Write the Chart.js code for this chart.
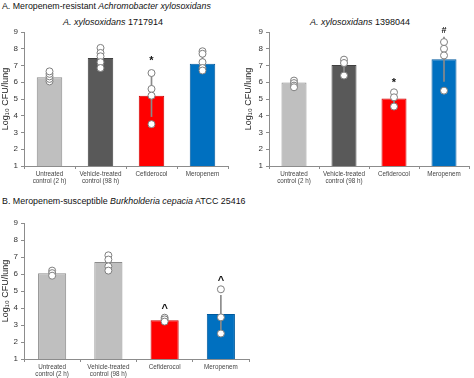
<!DOCTYPE html>
<html><head><meta charset="utf-8">
<script src="https://cdn.jsdelivr.net/npm/chart.js@4"></script>
<style>
html,body{margin:0;padding:0;background:#fff;width:474px;height:378px;overflow:hidden;font-family:"Liberation Sans",Arial,sans-serif;}
.t{position:absolute;white-space:nowrap;color:#111;}
canvas{position:absolute;}
</style></head><body>
<div class="t" style="left:2px;top:1px;font-size:8.8px;">A. Meropenem-resistant <i>Achromobacter xylosoxidans</i></div>
<div class="t" style="left:63px;top:17px;font-size:9px;"><i>A. xylosoxidans</i> 1717914</div>
<div class="t" style="left:310px;top:17px;font-size:9px;"><i>A. xylosoxidans</i> 1398044</div>
<div class="t" style="left:2px;top:196px;font-size:8.9px;">B. Meropenem-susceptible <i>Burkholderia cepacia</i> ATCC 25416</div>
<div style="position:absolute;left:0;top:24px;width:237px;height:166px;"><canvas id="c1"></canvas></div>
<div style="position:absolute;left:237px;top:24px;width:237px;height:166px;"><canvas id="c2"></canvas></div>
<div style="position:absolute;left:0;top:215px;width:260px;height:163px;"><canvas id="c3"></canvas></div>
<script>
const categories = ["Untreated control (2 h)", "Vehicle-treated control (98 h)", "Cefiderocol", "Meropenem"];
const tickLabels = [["Untreated","control (2 h)"],["Vehicle-treated","control (98 h)"],["Cefiderocol"],["Meropenem"]];
const yTicks = [1,2,3,4,5,6,7,8,9];
const yTitle = "Log\u2081\u2080 CFU/lung";

// Panel A left: A. xylosoxidans 1717914
const a1Means = [6.3, 7.45, 5.2, 7.1];
const a1Untreated = [6.05, 6.2, 6.35, 6.5, 6.65];
const a1Vehicle = [8.05, 7.75, 7.55, 7.2, 6.85];
const a1Cefiderocol = [6.55, 5.6, 5.2, 3.5];
const a1Meropenem = [7.85, 7.7, 7.2, 6.85, 6.7];
const a1ErrLow = [6.1, 6.95, 3.95, 6.6];
const a1ErrHigh = [6.5, 7.95, 6.45, 7.6];
const a1Marks = ["", "", "*", ""];
const a1MarkY = [null, null, 7.4, null];

// Panel A right: A. xylosoxidans 1398044
const a2Means = [5.98, 7.03, 5.03, 7.37];
const a2Untreated = [6.1, 5.95, 5.8, 5.7];
const a2Vehicle = [7.35, 7.15, 6.4];
const a2Cefiderocol = [5.4, 5.1, 4.55];
const a2Meropenem = [8.4, 8.0, 7.6, 5.5];
const a2ErrLow = [5.82, 6.55, 4.6, 6.05];
const a2ErrHigh = [6.14, 7.5, 5.45, 8.7];
const a2Marks = ["", "", "*", "#"];
const a2MarkY = [null, null, 6.1, 9.1];

// Panel B: B. cepacia ATCC 25416
const bMeans = [6.05, 6.7, 3.28, 3.65];
const bUntreated = [6.2, 6.05, 5.9];
const bVehicle = [7.1, 6.85, 6.45, 6.2];
const bCefiderocol = [3.43, 3.33, 3.2];
const bMeropenem = [5.1, 3.45, 2.5];
const bErrLow = [5.9, 6.3, 3.18, 2.55];
const bErrHigh = [6.2, 7.1, 3.38, 4.75];
const bMarks = ["", "", "^", "^"];
const bMarkY = [null, null, 4.05, 5.7];

const FONT = "'Liberation Sans', Arial, sans-serif";

const markPlugin = {
  id: 'marks',
  afterDatasetsDraw(chart, args, opts) {
    const {ctx, scales:{x, y}} = chart;
    ctx.save();
    ctx.fillStyle = '#111';
    ctx.textAlign = 'center';
    ctx.textBaseline = 'middle';
    opts.marks.forEach((m, i) => {
      if (!m) return;
      ctx.font = (m === '#' ? 'bold 9px ' : 'bold 11px ') + FONT;
      ctx.fillText(m, x.getPixelForValue(i), y.getPixelForValue(opts.markY[i]) + (m === '*' ? 2 : (m === '^' ? 2 : 0)));
    });
    ctx.restore();
  }
};

function makeChart(id, means, colors, borders, points, errLow, errHigh, marks, markY, yWidth, xHeight, pad) {
  const cv = document.getElementById(id);
  const pts = [];
  points.forEach((arr, i) => arr.forEach(v => pts.push({x: categories[i], y: v})));
  return new Chart(cv, {
    type: 'bar',
    data: {
      labels: categories,
      datasets: [
        {type:'line', data: pts, showLine:false, pointRadius:3.5, pointBackgroundColor:'#ffffff',
         pointBorderColor:'#7f7f7f', pointBorderWidth:1, order:1},
        {type:'bar', data: errLow.map((v,i)=>[v, errHigh[i]]), backgroundColor:'#8a8a8a', barThickness:1,
         grouped:false, order:2},
        {type:'bar', data: means, backgroundColor: colors, borderColor: borders, borderWidth:1,
         categoryPercentage:1, barPercentage:0.5, grouped:false, order:3}
      ]
    },
    options: {
      responsive: true, maintainAspectRatio: false, animation: false,
      devicePixelRatio: 1,
      layout: {padding: pad},
      plugins: {legend:{display:false}, tooltip:{enabled:false}, marks:{marks, markY}},
      scales: {
        x: {
          offset: true,
          grid: {display:true, drawOnChartArea:false, offset:true, tickLength:3, color:'#8c8c8c'},
          border: {color:'#8c8c8c'},
          ticks: {font:{family:FONT, size:6.3}, color:'#444', maxRotation:0, autoSkip:false, padding:1,
                  callback:(v, i) => tickLabels[i]},
          afterFit(s){ s.height = xHeight; }
        },
        y: {
          min: yTicks[0], max: yTicks[yTicks.length-1],
          grid: {display:true, drawOnChartArea:false, tickLength:3, color:'#8c8c8c'},
          border: {color:'#8c8c8c'},
          ticks: {stepSize:1, font:{family:FONT, size:8}, color:'#333', padding:3},
          title: {display:true, text:yTitle, font:{family:FONT, size:9}, color:'#222', padding:{top:0,bottom:0}},
          afterFit(s){ s.width = yWidth; }
        }
      }
    },
    plugins: [markPlugin]
  });
}

makeChart('c1', a1Means, ['#bfbfbf','#595959','#ff0000','#0070c0'], ['#8c8c8c','#404040','#d00000','#005a9e'],
  [a1Untreated, a1Vehicle, a1Cefiderocol, a1Meropenem], a1ErrLow, a1ErrHigh, a1Marks, a1MarkY, 24, 24,
  {top:8, right:9, left:0, bottom:0});
makeChart('c2', a2Means, ['#bfbfbf','#595959','#ff0000','#0070c0'], ['#8c8c8c','#404040','#d00000','#005a9e'],
  [a2Untreated, a2Vehicle, a2Cefiderocol, a2Meropenem], a2ErrLow, a2ErrHigh, a2Marks, a2MarkY, 26, 24,
  {top:8, right:2, left:6, bottom:0});
makeChart('c3', bMeans, ['#bfbfbf','#bfbfbf','#ff0000','#0070c0'], ['#8c8c8c','#8c8c8c','#d00000','#005a9e'],
  [bUntreated, bVehicle, bCefiderocol, bMeropenem], bErrLow, bErrHigh, bMarks, bMarkY, 24, 19,
  {top:8, right:11, left:0, bottom:0});
</script>
</body></html>
